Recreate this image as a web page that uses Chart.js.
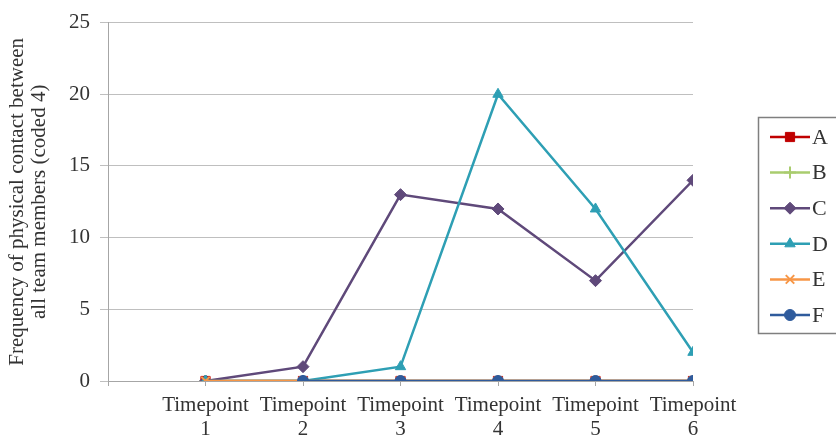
<!DOCTYPE html>
<html lang="en">
<head>
  <meta charset="UTF-8" />
  <title>Frequency of physical contact</title>
  <script src="https://cdn.jsdelivr.net/npm/chart.js"></script>
  <style>
    html, body { margin: 0; padding: 0; background: #fff; }
    #wrap { width: 836px; height: 436px; }
  </style>
</head>
<body>
  <div id="wrap"><canvas id="grafica" width="836" height="436"></canvas></div>

  <script>
    // data
    const timepoints = ["Timepoint 1", "Timepoint 2", "Timepoint 3", "Timepoint 4", "Timepoint 5", "Timepoint 6"];
    const seriesNames = ["A", "B", "C", "D", "E", "F"];
    const valuesA = [0, 0, 0, 0, 0, 0];
    const valuesB = [0, 0, 0, 0, 0, 0];
    const valuesC = [0, 1, 13, 12, 7, 14];
    const valuesD = [0, 0, 1, 20, 12, 2];
    const valuesE = [0, 0, 0, 0, 0, 0];
    const valuesF = [null, 0, 0, 0, 0, 0];
    const yTicks = [0, 5, 10, 15, 20, 25];

    const serif = "'Liberation Serif', 'Times New Roman', serif";
    const textColor = "#333333";

    const estilos = [
      { color: "#C00000", point: "rect", radius: 6.5 },
      { color: "#A9CC6E", point: "cross", radius: 6 },
      { color: "#5F497A", point: "rectRot", radius: 6 },
      { color: "#2E9FB4", point: "triangle", radius: 6 },
      { color: "#F79646", point: "crossRot", radius: 6 },
      { color: "#2F5B9C", point: "circle", radius: 5.5 }
    ];
    const valores = [valuesA, valuesB, valuesC, valuesD, valuesE, valuesF];

    const datasets = seriesNames.map((name, i) => ({
      label: name,
      data: valores[i].map((v, j) => ({ x: j + 1, y: v })),
      borderColor: estilos[i].color,
      backgroundColor: estilos[i].color,
      pointBackgroundColor: estilos[i].color,
      pointBorderColor: estilos[i].color,
      pointStyle: estilos[i].point,
      pointRadius: estilos[i].radius,
      pointBorderWidth: (estilos[i].point === "cross" || estilos[i].point === "crossRot") ? 2 : 1,
      borderWidth: 2.5,
      tension: 0,
      order: seriesNames.length - i
    }));

    // legend with a frame, drawn like the spreadsheet one
    const leyenda = {
      id: "leyenda",
      afterDraw(chart) {
        const ctx = chart.ctx;
        ctx.save();
        ctx.strokeStyle = "#7F7F7F";
        ctx.lineWidth = 1.5;
        ctx.strokeRect(758.5, 117.5, 100, 216);
        chart.data.datasets.forEach((ds, i) => {
          const y = 137 + i * 35.6;
          ctx.strokeStyle = ds.borderColor;
          ctx.fillStyle = ds.borderColor;
          ctx.lineWidth = 2.5;
          ctx.beginPath();
          ctx.moveTo(770, y);
          ctx.lineTo(810, y);
          ctx.stroke();
          ctx.lineWidth = ds.pointBorderWidth;
          if (Chart.helpers && Chart.helpers.drawPoint) {
            Chart.helpers.drawPoint(ctx, { pointStyle: ds.pointStyle, radius: ds.pointRadius, rotation: 0, borderWidth: ds.pointBorderWidth }, 790, y);
          }
          ctx.fillStyle = textColor;
          ctx.font = "22px " + serif;
          ctx.textAlign = "left";
          ctx.textBaseline = "middle";
          ctx.fillText(ds.label, 812, y + 1);
        });
        ctx.restore();
      }
    };

    new Chart(document.getElementById("grafica"), {
      type: "line",
      data: { datasets },
      options: {
        responsive: false,
        animation: false,
        layout: { padding: { top: 20, right: 143, left: 0, bottom: 0 } },
        plugins: {
          legend: { display: false },
          tooltip: { enabled: false }
        },
        scales: {
          x: {
            type: "linear",
            min: 0,
            max: 6,
            afterFit: s => { s.height = 55; },
            afterBuildTicks: s => { s.ticks = [0, 1, 2, 3, 4, 5, 6].map(v => ({ value: v })); },
            grid: { drawOnChartArea: false, drawTicks: true, tickLength: 5, color: "#A6A6A6" },
            border: { display: true, color: "#A6A6A6", width: 1 },
            ticks: {
              padding: 8,
              color: textColor,
              font: { family: serif, size: 21, lineHeight: 1.14 },
              maxRotation: 0,
              autoSkip: false,
              callback: v => (v >= 1 && v <= timepoints.length) ? timepoints[v - 1].split(" ") : ""
            }
          },
          y: {
            min: yTicks[0],
            max: yTicks[yTicks.length - 1],
            afterFit: s => { s.width = 108; },
            afterBuildTicks: s => { s.ticks = yTicks.map(v => ({ value: v })); },
            grid: { color: "#BFBFBF", lineWidth: 1, tickLength: 8 },
            border: { display: true, color: "#A6A6A6", width: 1 },
            ticks: {
              padding: 10,
              color: textColor,
              font: { family: serif, size: 21 }
            },
            title: {
              display: true,
              text: ["Frequency of physical contact between", "all team members (coded 4)"],
              color: textColor,
              font: { family: serif, size: 21, lineHeight: 1.05 },
              padding: { top: 6, bottom: 0 }
            }
          }
        }
      },
      plugins: [leyenda]
    });
  </script>
</body>
</html>
